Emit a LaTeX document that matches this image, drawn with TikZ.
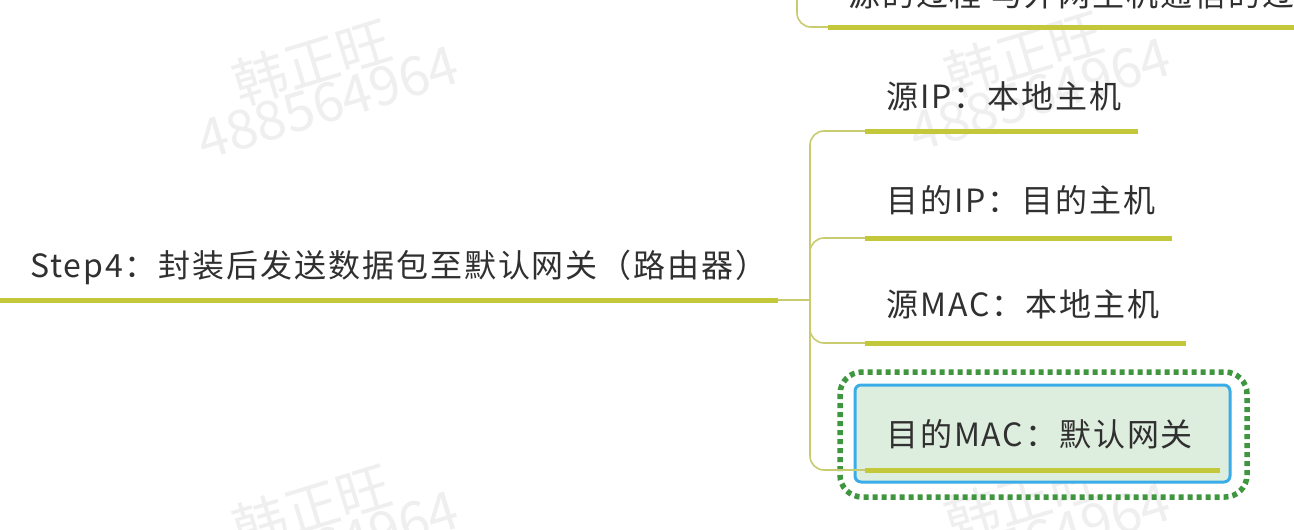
\documentclass[tikz,border=0pt]{standalone}
\usepackage{fontspec}
\setmainfont{Noto Sans CJK SC}[LetterSpace=6]
\newfontfamily\wmfont{Noto Sans CJK SC}
\definecolor{olive}{RGB}{195,199,58}
\definecolor{olivelt}{RGB}{200,204,110}
\definecolor{txt}{RGB}{48,48,48}
\definecolor{boxblue}{RGB}{58,172,232}
\definecolor{boxfill}{RGB}{222,238,222}
\definecolor{dotgreen}{RGB}{62,150,62}
\definecolor{wmgray}{RGB}{239,239,239}
\begin{document}
\begin{tikzpicture}[x=1pt,y=-1pt,
  lbl/.style={anchor=base west, inner sep=0pt, text=txt, font=\fontsize{32}{38}\selectfont},
  uline/.style={line width=5pt, draw=olive},
  conn/.style={line width=1.6pt, draw=olivelt, rounded corners=14pt},
  wm/.style={text=wmgray, font=\wmfont\fontsize{54}{60}\selectfont, rotate=17, inner sep=0pt},
  selbox/.style={draw=boxblue, line width=3pt, fill=boxfill, rounded corners=6pt},
  focusring/.style={draw=dotgreen, line width=5.5pt, dash pattern=on 5pt off 4pt, rounded corners=22pt},
]
\useasboundingbox (0,0) rectangle (1294,530);
\fill[white] (0,0) rectangle (1294,530);
\begin{scope}
\clip (0,0) rectangle (1294,530);
% watermarks
\foreach \dx/\dy [count=\i] in {0/0, 712/-8, 0/445, 712/437} {
  \node[wm] (wma\i) at (312+\dx,62+\dy) {韩正旺};
  \node[wm] (wmb\i) at (328+\dx,103+\dy) {488564964};
}
% top (cut-off) branch
\node[lbl] (top) at (848,6) {源的过程 与外网主机通信的过程};
\coordinate (topstart) at (797,0);
\coordinate (topbend) at (797,27);
\coordinate (topul) at (828,27);
\coordinate (topend) at (1294,27);
\draw[conn] (topstart) -- (topbend) -- (topul);
\draw[uline] (topul) -- (topend);
\end{scope}

% main topic
\node[lbl] (main) at (30,277) {Step4：封装后发送数据包至默认网关（路由器）};
\coordinate (mainstart) at (0,300);
\coordinate (mainend) at (778,300);
\coordinate (hub) at (810,300);
\draw[uline] (mainstart) -- (mainend);
\draw[conn] (mainend) -- (hub);

% selection box around last child
\draw[focusring] (840,372) rectangle (1247,497);
\draw[selbox] (855,385) rectangle (1230,482);

% children
\node[lbl] (c1) at (886,108) {源IP：本地主机};
\node[lbl] (c2) at (886,212) {目的IP：目的主机};
\node[lbl] (c3) at (886,316) {源MAC：本地主机};
\node[lbl] (c4) at (886,446) {目的MAC：默认网关};

\coordinate (u1a) at (865,131); \coordinate (u1b) at (1138,131);
\coordinate (u2a) at (865,238); \coordinate (u2b) at (1172,238);
\coordinate (u3a) at (865,343); \coordinate (u3b) at (1186,343);
\coordinate (u4a) at (865,470); \coordinate (u4b) at (1220,470);

\draw[conn] (hub) |- (u1a);
\draw[conn] (hub) |- (u2a);
\draw[conn] (hub) |- (u3a);
\draw[conn] (hub) |- (u4a);

\draw[uline] (u1a) -- (u1b);
\draw[uline] (u2a) -- (u2b);
\draw[uline] (u3a) -- (u3b);
\draw[uline] (u4a) -- (u4b);
\end{tikzpicture}
\end{document}
